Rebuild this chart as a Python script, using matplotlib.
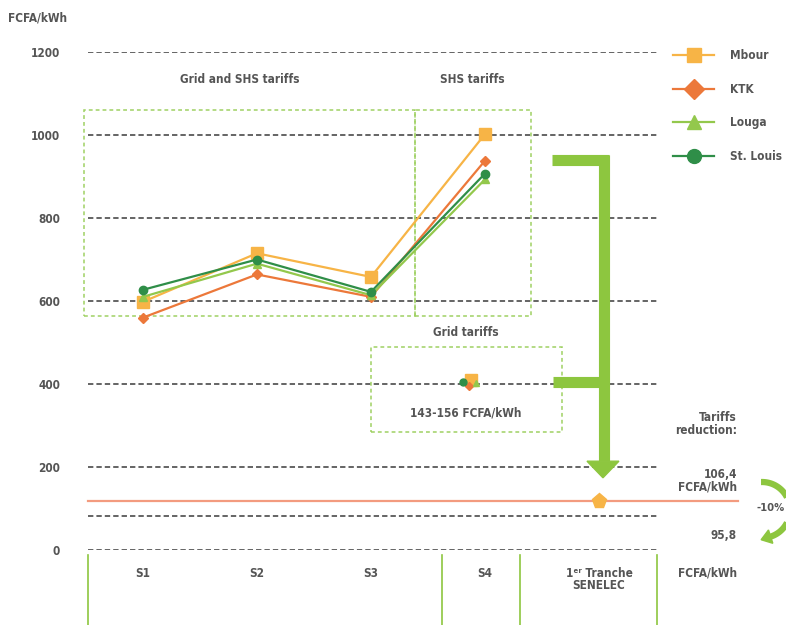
import matplotlib
matplotlib.use("Agg")
import numpy as np
import matplotlib.pyplot as plt
from matplotlib.lines import Line2D
from matplotlib.patches import Rectangle, Polygon
from matplotlib.transforms import IdentityTransform

plt.rcParams['font.family'] = ['DejaVu Sans']
plt.rcParams['font.stretch'] = 'condensed'
plt.rcParams['font.weight'] = 'bold'

# data
stages = ['S1', 'S2', 'S3', 'S4', '1ᵉʳ Tranche\nSENELEC']
series = ['Mbour', 'KTK', 'Louga', 'St. Louis']
mbour = [598, 715, 658, 1002]
ktk = [560, 664, 610, 938]
louga = [610, 690, 614, 893]
st_louis = [627, 700, 622, 907]
grid_tariff = [410, 396, 402, 405]      # grid points, same series order
grid_x = [2.88, 2.86, 2.92, 2.81]
senelec_tariff = 118
reduced_level = 82
yticks = [0, 200, 400, 600, 800, 1000, 1200]

colors = ['#F7B446', '#EC783A', '#93C84C', '#2F8E48']
markers = ['s', 'D', '^', 'o']
msizes = [9, 5, 6, 6]
txt = '#555555'
box_col = '#9FD163'

W, H = 786, 625
fig = plt.figure(figsize=(W / 100, H / 100), dpi=100)
ax = fig.add_axes([88 / W, 75 / H, 569 / W, 498 / H])
ax.set_xlim(-0.482, 4.509)
ax.set_ylim(0, 1200)
for s in ax.spines.values():
    s.set_visible(False)

# gridlines
for v in yticks + [reduced_level]:
    ax.axhline(v, color='#3a3a3a', lw=1.1, ls=(0, (3.5, 2)), zorder=1)
ax.set_yticks(yticks)
ax.set_yticklabels([str(v) for v in yticks], fontsize=8.5, color=txt)
ax.set_xticks(range(len(stages)))
ax.set_xticklabels(stages, fontsize=8.5, color=txt, linespacing=0.95)
ax.tick_params(length=0)
ax.tick_params(axis='y', pad=20)
ax.tick_params(axis='x', pad=12)

# dashed boxes
boxes = [(-0.52, 565, 2.91, 496), (2.39, 565, 1.01, 496), (2.0, 285, 1.68, 205)]
for x0, y0, w, h in boxes:
    ax.add_patch(Rectangle((x0, y0), w, h, fill=False, ec=box_col, lw=1.1,
                           ls=(0, (2.5, 2)), clip_on=False, zorder=2))

# series lines
xs = range(4)
for vals, c, m, ms, gy, gx in zip([mbour, ktk, louga, st_louis], colors, markers, msizes,
                                  grid_tariff, grid_x):
    ax.plot(xs, vals, color=c, lw=1.6, marker=m, ms=ms, zorder=4, clip_on=False)
    ax.plot([gx], [gy], color=c, marker=m, ms=ms - 1, zorder=4, ls='none')

# SENELEC tariff line
ax.plot([-0.482, 5.22], [senelec_tariff, senelec_tariff], color='#F39B7F', lw=1.6,
        clip_on=False, zorder=3)
ax.plot([4], [senelec_tariff], marker='p', color='#F7B446', ms=11, zorder=5, ls='none')

# big green arrow
g = '#8DC63F'
ax.plot([3.59, 4.09], [940, 940], color=g, lw=8, solid_capstyle='butt', zorder=3)
ax.plot([4.04, 4.04], [952, 215], color=g, lw=8, solid_capstyle='butt', zorder=3)
ax.plot([3.60, 4.04], [406, 406], color=g, lw=8, solid_capstyle='butt', zorder=3)
ax.add_patch(Polygon([[3.895, 214], [4.175, 214], [4.035, 174]], closed=True,
                     color=g, zorder=3, clip_on=False))

# separators below the axis
for xv in [-0.482, 2.623, 3.307, 4.509]:
    ax.plot([xv, xv], [-12, -185], color=g, lw=1.2, clip_on=False)

# annotations
ax.text(0.85, 1133, 'Grid and SHS tariffs', ha='center', va='center', fontsize=8.5, color=txt)
ax.text(2.89, 1133, 'SHS tariffs', ha='center', va='center', fontsize=8.5, color=txt)
ax.text(2.83, 523, 'Grid tariffs', ha='center', va='center', fontsize=8.5, color=txt)
ax.text(2.83, 330, '143-156 FCFA/kWh', ha='center', va='center', fontsize=8.5, color=txt)
ax.text(5.21, 304, 'Tariffs\nreduction:', ha='right', va='center', fontsize=8.5,
        color=txt, linespacing=0.95, clip_on=False)
ax.text(5.21, 166, '106,4\nFCFA/kWh', ha='right', va='center', fontsize=8.5,
        color=txt, linespacing=0.95, clip_on=False)
ax.text(5.21, 36, '95,8', ha='right', va='center', fontsize=8.5, color=txt)
ax.text(5.21, -55, 'FCFA/kWh', ha='right', va='center', fontsize=8.5, color=txt)
ax.text(5.385, 101, '-10%', ha='left', va='center', fontsize=8, color=txt, clip_on=False)
fig.text(8 / W, 1 - 18 / H, 'FCFA/kWh', ha='left', va='center', fontsize=8.5, color=txt)

# curved -10% arrows at the right edge (display pixels, y up)
cx, cy, r = 762, H - 510, 28
a_top = np.radians(np.linspace(92, 20, 20))
a_bot = np.radians(np.linspace(-20, -72, 20))
fig.add_artist(Line2D(cx + r * np.cos(a_top), cy + r * np.sin(a_top), color=g, lw=4.5,
                      solid_capstyle='butt', transform=IdentityTransform()))
fig.add_artist(Line2D(cx + r * np.cos(a_bot), cy + r * np.sin(a_bot), color=g, lw=4.5,
                      solid_capstyle='butt', transform=IdentityTransform()))
th = a_bot[-1]
end = np.array([cx + r * np.cos(th), cy + r * np.sin(th)])
d = np.array([np.sin(th), -np.cos(th)])
n = np.array([-d[1], d[0]])
fig.add_artist(Polygon([end + 7 * n, end - 7 * n, end + 10 * d], closed=True, color=g,
                       transform=IdentityTransform()))

# legend
handles = [Line2D([0], [0], color=c, marker=m, lw=1.6, ms=10) for c, m in zip(colors, markers)]
leg = ax.legend(handles, series, loc='upper left', bbox_to_anchor=(673 / W, 1 - 49 / H),
                bbox_transform=fig.transFigure, frameon=False, fontsize=8.5,
                handlelength=3.5, handletextpad=1.35, labelspacing=1.75,
                borderpad=0, borderaxespad=0)
for t in leg.get_texts():
    t.set_color(txt)

fig.savefig('out.png', dpi=100)
